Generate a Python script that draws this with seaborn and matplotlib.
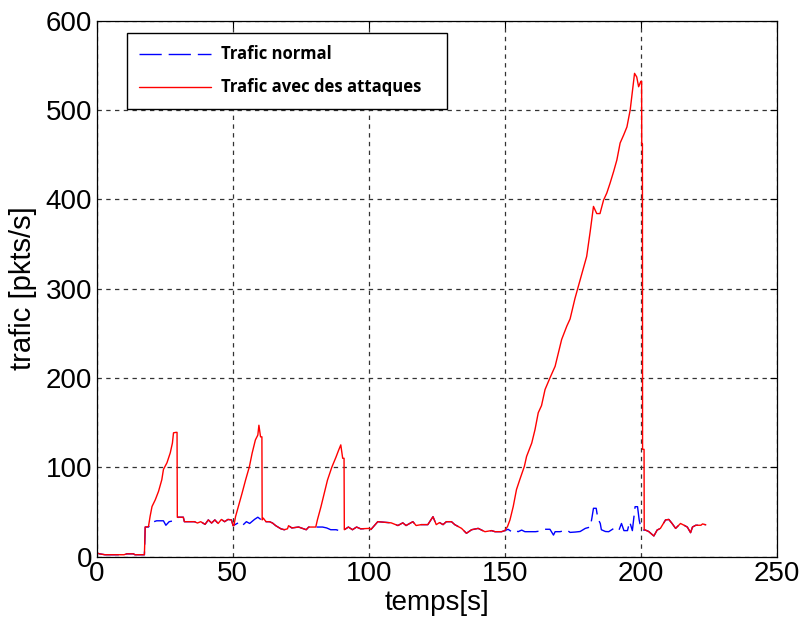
"""
Trafic normal vs trafic avec des attaques (pkts/s over time)
"""

import matplotlib
matplotlib.use("Agg")

import pandas as pd
import matplotlib.pyplot as plt
import seaborn as sns

# normal traffic (seconds, pkts/s)
normal_t = [0, 1, 3, 6, 10, 11, 13.5, 14, 17.5, 17.8, 19, 20, 22, 24.5, 25.4, 26.6, 28.2, 29.5,
            29.8, 31.8, 32.2, 35.9, 37, 38.2, 39.8, 41, 42.2, 43.4, 44.6, 45.8, 47, 48.2, 49.5,
            50.1, 51.6, 52.8, 53.8, 55, 56.2, 58, 59.2, 60.5, 61.2, 62.2, 63.5, 64.6, 65.8, 67.7,
            68.9, 70.1, 70.5, 71.7, 74.2, 76, 77, 77.9, 80.5, 83, 84.5, 86, 88, 89.6, 91, 92.5,
            94, 95.5, 97, 100.2, 100.8, 103.3, 108.2, 110.7, 112.5, 113.7, 116.2, 117.4, 119.3,
            121.7, 123.6, 124.8, 126, 127.3, 128.5, 130.4, 131.6, 134.1, 135.9, 137.8, 140.2,
            142.7, 145.1, 146.4, 148.8, 150, 151.2, 152.5, 153.7, 154.9, 156.2, 157.4, 159.8,
            161.3, 163, 164.8, 166.6, 167.9, 168.5, 170.3, 172.8, 174, 175.9, 177.7, 179.6,
            181.4, 182, 182.6, 183.6, 184.2, 185.1, 185.5, 187, 188.2, 190.1, 191.9, 192.9,
            193.8, 195.1, 195.9, 196.9, 197.9, 198.8, 199.4, 200, 201.1, 201.7, 202.9, 204.8,
            206, 207.2, 209.1, 210.3, 211.5, 212.8, 214.6, 215.9, 217.1, 218.3, 219, 220.2,
            222.1, 222.7, 223.9]
normal_v = [4, 3, 2, 2, 2, 3, 3, 2, 2, 33, 33, 38, 40, 40, 35, 39, 40, 41.5,
            44, 44, 39, 39, 37.5, 39, 36, 41, 37.5, 41, 37, 41.5, 39, 41.5, 41,
            34.5, 37, 39, 35.5, 39, 37, 41.6, 44, 41, 43, 39, 39, 37.5, 34.5, 31,
            30, 31, 34.5, 32, 33, 31, 30, 33, 33, 33, 32, 30, 30, 28.5, 30, 33,
            30, 33, 31, 31.5, 30.3, 39, 37.7, 34.7, 37.7, 34.7, 39, 34.7, 35.7,
            35.7, 44.6, 35.7, 38, 35.7, 39, 39, 35.7, 31.5, 26, 30, 31.5,
            27.8, 29, 27.8, 27.8, 29, 30.5, 27.8, 29.6, 27.8, 29.6, 27.8, 27.8,
            27.8, 28.5, 30.5, 30.5, 24, 27.8, 27.8, 29.6, 27, 27.4, 28, 31.5,
            33, 42.7, 54, 54, 42.7, 37, 30, 28, 27.8, 31.5, 29, 37,
            29, 29, 39, 29, 55.8, 55.8, 41, 32, 29.6, 29.6, 28, 23,
            29.6, 31.5, 41, 41.5, 37, 31.5, 37, 35, 33, 26.7, 33, 35,
            35, 36.5, 35.5]

# attack ramps (replace the normal traffic inside their time window)
attack1_t = [19.0, 19.6, 20.3, 21.5, 22.7, 23.9, 24.5, 25.8, 27.0, 27.8, 28.2, 29.1, 29.5, 29.6]
attack1_v = [33.5, 45, 56, 63.5, 73, 86, 97.5, 105, 116, 127, 138.5, 139, 139, 44]

attack2_t = [50.4, 51.0, 52.2, 53.4, 54.7, 56.1, 57.1, 58.3, 59.2, 59.6, 60.2, 60.7, 60.8]
attack2_v = [34.5, 44.6, 57.7, 70.8, 85.7, 100.6, 115.6, 130.5, 136, 147, 134, 134, 41]

attack3_t = [80.5, 81.1, 82.4, 83.6, 84.8, 86.4, 87.9, 88.9, 89.7, 90.4, 90.9]
attack3_v = [33, 41, 55.6, 70.5, 85.5, 100, 111, 119, 125, 110, 110]

attack4_t = [150.0, 151.0, 151.9, 153.1, 154.3, 155.5, 157.2, 158.0, 159.9, 161.1, 162.3, 163.5,
             164.8, 166.6, 168.5, 169.7, 170.9, 172.8, 174.0, 175.2, 175.8, 177.0, 178.9, 180.1,
             181.4, 182.6, 183.8, 185.0, 186.3, 187.5, 188.7, 190.0, 191.2, 192.4, 193.7, 194.9,
             196.1, 196.7, 197.7, 198.5, 199.2, 200.0, 200.3, 200.35, 200.6, 200.65, 201.2, 201.25]
attack4_v = [29, 33.6, 41, 56, 75, 86, 101, 112, 127, 142, 161, 169,
             187, 200, 213, 228, 243, 258, 266, 281, 289, 302, 323, 336,
             364, 392, 384, 384, 399, 407, 418, 431, 444, 463, 472, 481,
             500, 515, 541, 537, 526, 532, 532, 462, 462, 120, 120, 30]

attacks = [(attack1_t, attack1_v), (attack2_t, attack2_v),
           (attack3_t, attack3_v), (attack4_t, attack4_v)]

normal = pd.DataFrame({'t': normal_t, 'v': normal_v})
keep = pd.Series(True, index=normal.index)
parts = []
for at, av in attacks:
    keep &= ~normal['t'].between(at[0], at[-1])
    parts.append(pd.DataFrame({'t': at, 'v': av}))
attack = pd.concat([normal[keep]] + parts).sort_values('t', kind='stable').reset_index(drop=True)

sns.set_style("white")
plt.rcParams['font.family'] = ['Liberation Sans', 'DejaVu Sans']
plt.rcParams['text.color'] = 'black'
plt.rcParams['axes.labelcolor'] = 'black'

fig = plt.figure(figsize=(8, 6.26), dpi=100)
ax = fig.add_axes([0.121, 0.111, 0.850, 0.856])

sns.lineplot(data=normal, x='t', y='v', ax=ax, estimator=None, sort=False,
             color='#0000ff', linewidth=1.0, linestyle=(0, (16, 5)), label='Trafic normal')
sns.lineplot(data=attack, x='t', y='v', ax=ax, estimator=None, sort=False,
             color='#ff0000', linewidth=1.0, label='Trafic avec des attaques')

ax.set_xlim(0, 250)
ax.set_ylim(0, 600)
ax.set_xticks(range(0, 251, 50))
ax.set_yticks(range(0, 601, 100))
ax.grid(True, color='0.2', linestyle=(0, (3.5, 3.5)), linewidth=0.9)
ax.tick_params(direction='in', length=5, width=0.8, labelsize=20, top=True, right=True,
               colors='black')
for s in ax.spines.values():
    s.set_color('black')
    s.set_linewidth(0.9)

ax.set_xlabel('temps[s]', fontsize=20, labelpad=2, color='black')
ax.set_ylabel('trafic [pkts/s]', fontsize=21, labelpad=6, color='black')

# legend box: 320 px wide, top-left near (127, 33) px
leg = ax.legend(loc='upper left', bbox_to_anchor=(0.044, 0.75, 0.4706, 0.227), mode='expand',
                borderaxespad=0, handlelength=4.3, handletextpad=0.6, labelspacing=0.9,
                borderpad=0.75, fancybox=False, framealpha=1, edgecolor='black',
                prop={'family': ['Open Sans', 'DejaVu Sans'], 'weight': 'bold', 'size': 12})
leg.get_frame().set_linewidth(1.0)
for txt in leg.get_texts():
    txt.set_color('black')

fig.savefig('out.png', dpi=100)
